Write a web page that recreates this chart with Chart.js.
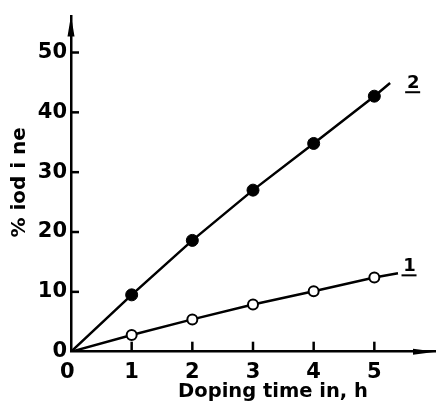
<!DOCTYPE html>
<html><head><meta charset="utf-8">
<script src="https://cdn.jsdelivr.net/npm/chart.js@4.4.1/dist/chart.umd.min.js"></script>
<style>html,body{margin:0;padding:0;background:#fff}#wrap{width:436px;height:405px}</style>
</head><body><div id="wrap"><canvas id="c" width="436" height="405"></canvas></div>
<script>
// ---- data ----
const hours = [0, 1, 2, 3, 4, 5];
const iodine1 = [0, 2.8, 5.4, 7.9, 10.1, 12.4];
const iodine2 = [0, 9.5, 18.6, 27.0, 34.8, 42.7];
const curveEnd1 = [5.39, 13.1];   // where drawn curve 1 stops
const curveEnd2 = [5.26, 44.9];   // where drawn curve 2 stops
const curveNames = ['1', '2'];
const curveNameAt = [[5.58, 14.6], [5.64, 45.2]];
const xTickLabels = ['0 ', '1', '2', '3', '4', '5'];
const yTickValues = [0, 10, 20, 30, 40, 50];
const xTitle = 'Doping time in, h';
const yTitle = '% iod i ne';

const FONT = "'DejaVu Sans', sans-serif";

function series(vals, end) {
  return hours.map((h, i) => ({ x: h, y: vals[i] })).concat([{ x: end[0], y: end[1] }]);
}
function radii(n, r) { const a = []; for (let i = 0; i < n; i++) a.push(i === 0 || i === n - 1 ? 0 : r); return a; }

const s1 = series(iodine1, curveEnd1);
const s2 = series(iodine2, curveEnd2);

const decor = {
  id: 'decor',
  afterDraw(chart) {
    const ctx = chart.ctx, xs = chart.scales.x, ys = chart.scales.y, ca = chart.chartArea;
    ctx.save();
    ctx.strokeStyle = '#000'; ctx.fillStyle = '#000'; ctx.lineWidth = 2.5; ctx.lineCap = 'butt';
    // inward tick marks
    hours.forEach(h => { if (h === 0) return; const px = xs.getPixelForValue(h);
      ctx.beginPath(); ctx.moveTo(px, ca.bottom); ctx.lineTo(px, ca.bottom - 10); ctx.stroke(); });
    yTickValues.forEach(v => { if (v === 0) return; const py = ys.getPixelForValue(v);
      ctx.beginPath(); ctx.moveTo(ca.left, py); ctx.lineTo(ca.left + 8, py); ctx.stroke(); });
    // axis arrows
    ctx.beginPath(); ctx.moveTo(ca.left, ca.top - 1); ctx.lineTo(ca.left - 3.5, ca.top + 20); ctx.lineTo(ca.left + 3.5, ca.top + 20); ctx.closePath(); ctx.fill();
    ctx.beginPath(); ctx.moveTo(ca.right + 1, ca.bottom); ctx.lineTo(ca.right - 22, ca.bottom - 3); ctx.lineTo(ca.right - 22, ca.bottom + 3); ctx.closePath(); ctx.fill();
    // curve names, underlined
    ctx.font = 'bold 18px ' + FONT; ctx.textAlign = 'center'; ctx.textBaseline = 'alphabetic';
    curveNames.forEach((n, i) => {
      const px = xs.getPixelForValue(curveNameAt[i][0]), py = ys.getPixelForValue(curveNameAt[i][1]);
      ctx.fillText(n, px, py + 7);
      ctx.fillRect(px - 8, py + 10, 15, 2);
    });
    // axis titles
    ctx.font = 'bold 19.5px ' + FONT; ctx.textBaseline = 'middle';
    ctx.fillText(xTitle, xs.getPixelForValue(3.33), ca.bottom + 40);
    ctx.save();
    ctx.translate(20, ys.getPixelForValue(28.3)); ctx.rotate(-Math.PI / 2);
    ctx.font = 'bold 20px ' + FONT;
    ctx.fillText(yTitle, 0, 0);
    ctx.restore();
    ctx.restore();
  }
};

new Chart(document.getElementById('c'), {
  type: 'line',
  data: {
    datasets: [
      { label: curveNames[1], data: s2, borderColor: '#000', borderWidth: 2.5, tension: 0,
        pointRadius: radii(s2.length, 6), pointBackgroundColor: '#000', pointBorderColor: '#000', pointBorderWidth: 1 },
      { label: curveNames[0], data: s1, borderColor: '#000', borderWidth: 2.5, tension: 0,
        pointRadius: radii(s1.length, 5), pointBackgroundColor: '#fff', pointBorderColor: '#000', pointBorderWidth: 2 }
    ]
  },
  options: {
    responsive: false, animation: false, devicePixelRatio: 1,
    layout: { padding: { top: 13.8, right: 1, left: 0, bottom: 0 } },
    plugins: { legend: { display: false }, tooltip: { enabled: false } },
    scales: {
      x: { type: 'linear', min: 0, max: 6,
        afterFit: s => { s.height = 53.3; },
        afterBuildTicks: s => { s.ticks = hours.map(v => ({ value: v })); },
        grid: { display: false, drawTicks: false }, border: { display: true, color: '#000', width: 2.5 },
        ticks: { color: '#000', padding: 8, font: { family: FONT, size: 21, weight: 'bold' }, maxRotation: 0, autoSkip: false,
          callback: (v) => xTickLabels[hours.indexOf(v)] } },
      y: { type: 'linear', min: 0, max: 56,
        afterFit: s => { s.width = 71; },
        afterBuildTicks: s => { s.ticks = yTickValues.map(v => ({ value: v })); },
        grid: { display: false, drawTicks: false }, border: { display: true, color: '#000', width: 2.5 },
        ticks: { color: '#000', padding: 4, font: { family: FONT, size: 21, weight: 'bold' }, autoSkip: false,
          callback: (v) => String(v) } }
    }
  },
  plugins: [decor]
});
</script></body></html>
